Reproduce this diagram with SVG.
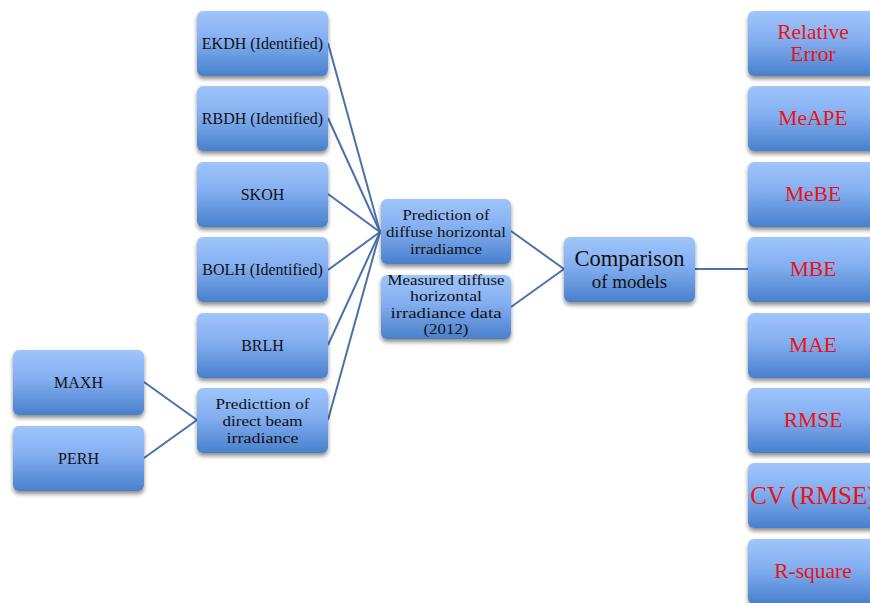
<svg xmlns="http://www.w3.org/2000/svg" width="870" height="603" viewBox="0 0 870 603">
<defs>
<linearGradient id="g" x1="0" y1="0" x2="0" y2="1">
<stop offset="0" stop-color="#9fc5fb"/>
<stop offset="0.45" stop-color="#83aef0"/>
<stop offset="1" stop-color="#4880cc"/>
</linearGradient>
<filter id="sh" x="-10%" y="-10%" width="120%" height="130%">
<feDropShadow dx="0" dy="3" stdDeviation="2" flood-color="#000" flood-opacity="0.45"/>
</filter>
</defs>
<style>
.b{fill:url(#g);filter:url(#sh)}
.t{font-family:"Liberation Serif","Times New Roman",serif;font-size:16px;fill:#111;text-anchor:middle}
.s{font-size:14.5px}
.r{font-family:"Liberation Serif","Times New Roman",serif;font-size:21.5px;fill:#ee1111;text-anchor:middle}
.c line{stroke:#4a72aa;stroke-width:2}
</style>
<rect width="870" height="603" fill="#fff"/>
<g class="c">
<line x1="328" y1="43" x2="380" y2="232"/>
<line x1="328" y1="118" x2="380" y2="232"/>
<line x1="328" y1="194" x2="380" y2="232"/>
<line x1="328" y1="270" x2="380" y2="232"/>
<line x1="328" y1="345" x2="380" y2="232"/>
<line x1="328" y1="420" x2="380" y2="232"/>
<line x1="144" y1="382" x2="197" y2="420"/>
<line x1="144" y1="458" x2="197" y2="420"/>
<line x1="511" y1="231" x2="564" y2="269"/>
<line x1="511" y1="307" x2="564" y2="269"/>
<line x1="695" y1="269" x2="748" y2="269"/>
</g>
<g id="ekdh"><rect class="b" x="197" y="11" width="131" height="65" rx="6"/><text class="t" x="262.5" y="49">EKDH (Identified)</text></g>
<g id="rbdh"><rect class="b" x="197" y="86" width="131" height="65" rx="6"/><text class="t" x="262.5" y="124">RBDH (Identified)</text></g>
<g id="skoh"><rect class="b" x="197" y="162" width="131" height="65" rx="6"/><text class="t" x="262.5" y="200">SKOH</text></g>
<g id="bolh"><rect class="b" x="197" y="237" width="131" height="65" rx="6"/><text class="t" x="262.5" y="275">BOLH (Identified)</text></g>
<g id="brlh"><rect class="b" x="197" y="313" width="131" height="65" rx="6"/><text class="t" x="262.5" y="351">BRLH</text></g>
<g id="pdb"><rect class="b" x="197" y="388" width="131" height="65" rx="6"/><text class="t s" x="262.5" y="408.5" textLength="94" lengthAdjust="spacingAndGlyphs">Predicttion of</text><text class="t s" x="262.5" y="425.5" textLength="80" lengthAdjust="spacingAndGlyphs">direct beam</text><text class="t s" x="262.5" y="442.5" textLength="72" lengthAdjust="spacingAndGlyphs">irradiance</text></g>
<g id="maxh"><rect class="b" x="13" y="350" width="131" height="65" rx="6"/><text class="t" x="78.5" y="388">MAXH</text></g>
<g id="perh"><rect class="b" x="13" y="426" width="131" height="65" rx="6"/><text class="t" x="78.5" y="464">PERH</text></g>
<g id="pdh"><rect class="b" x="381" y="199" width="130" height="65" rx="6"/><text class="t s" x="446" y="219.5" textLength="87" lengthAdjust="spacingAndGlyphs">Prediction of</text><text class="t s" x="446" y="236.5" textLength="120" lengthAdjust="spacingAndGlyphs">diffuse horizontal</text><text class="t s" x="446" y="253.5" textLength="72" lengthAdjust="spacingAndGlyphs">irradiamce</text></g>
<g id="meas"><rect class="b" x="381" y="275" width="130" height="64" rx="6"/><text class="t s" x="446" y="284.5" textLength="117" lengthAdjust="spacingAndGlyphs">Measured diffuse</text><text class="t s" x="446" y="301" textLength="72" lengthAdjust="spacingAndGlyphs">horizontal</text><text class="t s" x="446" y="317.5" textLength="111" lengthAdjust="spacingAndGlyphs">irradiance data</text><text class="t s" x="446" y="334" textLength="45" lengthAdjust="spacingAndGlyphs">(2012)</text></g>
<g id="comp"><rect class="b" x="564" y="237" width="131" height="65" rx="6"/><text class="t" x="629.5" y="266" style="font-size:22.5px">Comparison</text><text class="t" x="629.5" y="287.5" style="font-size:19px">of models</text></g>
<g id="re"><rect class="b" x="748" y="11" width="131" height="65" rx="6"/><text class="r" x="813" y="39">Relative</text><text class="r" x="813" y="61">Error</text></g>
<g id="meape"><rect class="b" x="748" y="86" width="131" height="65" rx="6"/><text class="r" x="813" y="125">MeAPE</text></g>
<g id="mebe"><rect class="b" x="748" y="162" width="131" height="65" rx="6"/><text class="r" x="813" y="201">MeBE</text></g>
<g id="mbe"><rect class="b" x="748" y="237" width="131" height="65" rx="6"/><text class="r" x="813" y="276">MBE</text></g>
<g id="mae"><rect class="b" x="748" y="313" width="131" height="65" rx="6"/><text class="r" x="813" y="352">MAE</text></g>
<g id="rmse"><rect class="b" x="748" y="388" width="131" height="65" rx="6"/><text class="r" x="813" y="427">RMSE</text></g>
<g id="cv"><rect class="b" x="748" y="463" width="131" height="65" rx="6"/><text class="r" x="813" y="504" style="font-size:25px">CV (RMSE)</text></g>
<g id="rsq"><rect class="b" x="748" y="539" width="131" height="65" rx="6"/><text class="r" x="813" y="578">R-square</text></g>
</svg>
